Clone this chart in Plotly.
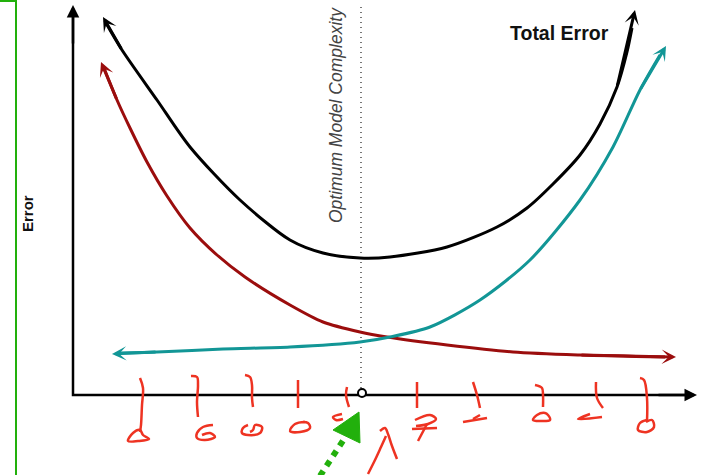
import plotly.graph_objects as go

# ---- data (x = model complexity position, y = error position, screen-down) ----
total_x = [106, 122, 157, 190, 240, 290, 323, 360, 390, 447, 497, 527, 553, 580, 600, 617, 627, 632]
total_y = [23, 50, 100, 147, 200, 240, 253, 258, 257, 247, 227, 208, 184, 155, 124, 87, 52, 28]

bias_x = [104, 117, 130, 147, 167, 190, 217, 245, 290, 323, 360, 387, 447, 513, 580, 665]
bias_y = [68, 100, 128, 162, 196, 228, 255, 277, 305, 322, 332, 337, 345, 352, 355, 357]

var_x = [120, 157, 223, 290, 360, 390, 430, 480, 530, 580, 613, 640, 660]
var_y = [353, 352, 349, 347, 342, 337, 327, 300, 260, 200, 147, 90, 55]

optimum_x = 361
axis_origin = (73, 395)
axis_x_tip = 697
axis_y_tip = 5

# hand-drawn red tick marks and digits
scribbles = [
    [(140, 378), (143, 388), (142, 405), (141, 425), (140, 432)],
    [(140, 430), (133, 433), (128, 441), (138, 441), (149, 439), (143, 435), (140, 430)],
    [(191, 376), (197, 377), (198, 385), (197, 402), (198, 417)],
    [(213, 425), (203, 427), (197, 433), (197, 438), (205, 440), (215, 437), (210, 433), (202, 435)],
    [(245, 375), (250, 377), (252, 385), (252, 398), (253, 407)],
    [(248, 425), (243, 428), (242, 433), (248, 435), (260, 433), (262, 427), (255, 425), (253, 430), (250, 432)],
    [(298, 380), (298, 408)],
    [(305, 422), (295, 424), (290, 431), (300, 432), (310, 428), (308, 423), (303, 422)],
    [(347, 387), (346, 395), (349, 407)],
    [(342, 414), (333, 417), (336, 420), (343, 419)],
    [(417, 382), (417, 395), (417, 408)],
    [(415, 420), (430, 415), (436, 419), (428, 424), (416, 426)],
    [(412, 429), (437, 428)],
    [(427, 424), (418, 441)],
    [(473, 382), (477, 395), (480, 408)],
    [(463, 422), (487, 418)],
    [(473, 419), (480, 415)],
    [(535, 385), (542, 388), (543, 395), (543, 407)],
    [(545, 413), (537, 415), (533, 420), (540, 421), (550, 420), (548, 415), (545, 413)],
    [(596, 382), (597, 398), (603, 408)],
    [(590, 414), (578, 419), (602, 417)],
    [(640, 378), (644, 380), (647, 398), (647, 422)],
    [(647, 420), (640, 423), (638, 430), (647, 432), (654, 427), (652, 420), (646, 422)],
    [(380, 431), (385, 428), (388, 434), (392, 446), (397, 459)],
    [(368, 474), (375, 460), (381, 447), (386, 436)],
]

green_line_x = [320, 346]
green_line_y = [476, 436]
green_head_x = [359, 333, 360, 359]
green_head_y = [412, 430, 443, 412]

frame_x = [0, 16, 16]
frame_y = [1, 1, 475]

BLACK = "#000000"
RED = "#9b0d0d"
TEAL = "#129696"
SCRIB = "#ee3322"
GREEN = "#22b00c"

fig = go.Figure()

# green frame
fig.add_trace(go.Scatter(x=frame_x, y=frame_y, mode="lines", cliponaxis=False,
                         line=dict(color=GREEN, width=2), hoverinfo="skip"))

# optimum dotted line
fig.add_trace(go.Scatter(x=[optimum_x, optimum_x], y=[axis_y_tip + 2, axis_origin[1] - 3], mode="lines",
                         line=dict(color="#777777", width=2, dash="1px,4px"), hoverinfo="skip"))

# curves
for xs, ys, col in [(total_x, total_y, BLACK), (bias_x, bias_y, RED), (var_x, var_y, TEAL)]:
    fig.add_trace(go.Scatter(x=xs, y=ys, mode="lines",
                             line=dict(color=col, width=3, shape="spline", smoothing=0.8),
                             hoverinfo="skip"))

# axes lines
fig.add_trace(go.Scatter(x=[axis_origin[0], axis_origin[0], axis_x_tip - 10],
                         y=[axis_y_tip + 10, axis_origin[1], axis_origin[1]], mode="lines",
                         line=dict(color=BLACK, width=2.5), hoverinfo="skip"))

# red scribbles
for s in scribbles:
    fig.add_trace(go.Scatter(x=[p[0] for p in s], y=[p[1] for p in s], mode="lines",
                             line=dict(color=SCRIB, width=2.5, shape="spline"), hoverinfo="skip"))

# optimum marker circle
fig.add_trace(go.Scatter(x=[optimum_x + 1], y=[axis_origin[1] - 2], mode="markers",
                         marker=dict(symbol="circle", size=8, color="white",
                                     line=dict(color=BLACK, width=2)), hoverinfo="skip"))

# green dotted arrow
fig.add_trace(go.Scatter(x=green_line_x, y=green_line_y, mode="lines",
                         line=dict(color=GREEN, width=6, dash="6px,6px"), hoverinfo="skip"))
fig.add_trace(go.Scatter(x=green_head_x, y=green_head_y, mode="lines", fill="toself",
                         fillcolor=GREEN, line=dict(color=GREEN, width=1), hoverinfo="skip"))

annotations = []


def arrow(tip, tail, color, width=3, head=3, size=0.8):
    annotations.append(dict(x=tip[0], y=tip[1], ax=tail[0], ay=tail[1], xref="x", yref="y",
                            axref="x", ayref="y", text="", showarrow=True, arrowhead=head,
                            arrowsize=size, arrowwidth=width, arrowcolor=color, standoff=0))


arrow((103, 17), (total_x[1], total_y[1]), BLACK)
arrow((635, 10), (total_x[-3], total_y[-3]), BLACK)
arrow((101, 62), (bias_x[1], bias_y[1]), RED)
arrow((676, 357), (bias_x[-2], bias_y[-2]), RED)
arrow((112, 354), (var_x[1], var_y[1]), TEAL)
arrow((666, 46), (var_x[-2], var_y[-2]), TEAL)
arrow((axis_origin[0], axis_y_tip), (axis_origin[0], axis_y_tip + 40), BLACK, width=2.5, head=2, size=1.0)
arrow((axis_x_tip, axis_origin[1]), (axis_x_tip - 40, axis_origin[1]), BLACK, width=2.5, head=2, size=1.0)

annotations += [
    dict(x=559, y=33, xref="x", yref="y", text="Total Error", showarrow=False,
         font=dict(family="Liberation Sans, Arial", size=19.5, color="#111111", weight="bold")),
    dict(x=27, y=214, xref="x", yref="y", text="Error", showarrow=False, textangle=-90,
         font=dict(family="Liberation Sans, Arial", size=15, color="#111111", weight="bold")),
    dict(x=336, y=115, xref="x", yref="y", text="Optimum Model Complexity", showarrow=False,
         textangle=-90,
         font=dict(family="Liberation Sans, Arial", size=17.5, color="#444444", style="italic")),
]

fig.update_layout(
    width=701, height=475,
    margin=dict(l=0, r=0, t=0, b=0),
    paper_bgcolor="white", plot_bgcolor="white",
    showlegend=False,
    xaxis=dict(range=[0, 701], visible=False, fixedrange=True),
    yaxis=dict(range=[475, 0], visible=False, fixedrange=True),
    annotations=annotations,
)

fig.write_html("out.html", config={"displayModeBar": False},
               post_script="document.body.style.margin='0';document.body.style.overflow='hidden';")
